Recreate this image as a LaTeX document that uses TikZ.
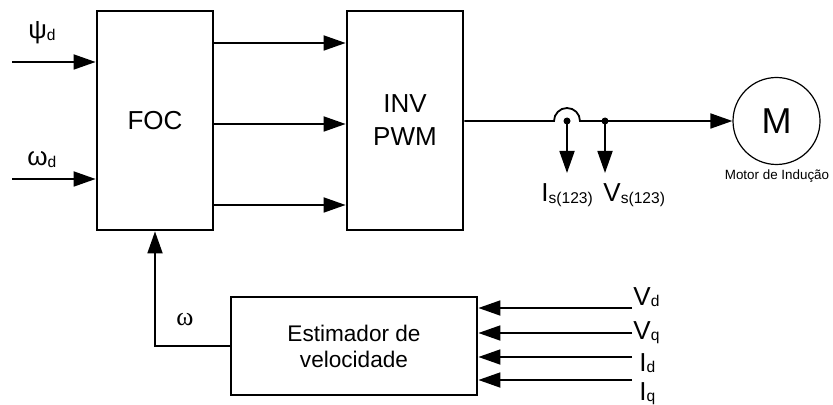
\documentclass[tikz,border=0pt]{standalone}
\usepackage{fontspec}
\setmainfont{Liberation Sans}
\newfontfamily\serifw{Liberation Serif}
\usetikzlibrary{arrows.meta}
\newcommand\fsz[1]{\fontsize{#1}{#1}\selectfont}
\newcommand\sbs[1]{\raisebox{-0.12ex}{\fontsize{7.8}{8}\selectfont #1}}
\begin{document}
\begin{tikzpicture}[x=0.5pt,y=0.5pt,
  blk/.style={draw,line width=1.4pt,inner sep=0pt},
  arr/.style={line width=0.9pt,-{Triangle[length=11pt,width=7.5pt]}},
  lbl/.style={inner sep=0pt,font=\fsz{13}}
]
\useasboundingbox (0,0) rectangle (833,-405);
% blocks
\node[blk,minimum width=58pt,minimum height=109.5pt,font=\fsz{13}] (foc) at (155,-120.5) {FOC};
\node[blk,minimum width=58pt,minimum height=109.5pt,font=\fsz{13},align=center] (inv) at (405,-120.5) {INV\\[3.5pt]PWM};
\node[blk,minimum width=123pt,minimum height=49pt,font=\fontsize{11.3}{13}\selectfont,align=center] (est) at (354,-346) {Estimador de\\velocidade};
\node[draw,circle,minimum size=43.5pt,line width=0.6pt,inner sep=0pt,font=\fsz{18}] (motor) at (776.5,-121) {M};
\node[inner sep=0pt,font=\fsz{6.7},anchor=base] (motl) at (777,-180) {Motor de Indução};
% inputs to FOC
\coordinate (psiS) at (12,-62);
\coordinate (omS) at (12,-179);
\draw[arr] (psiS) -- (psiS -| foc.west);
\draw[arr] (omS) -- (omS -| foc.west);
\node[lbl,anchor=base west] (psil) at (28,-39) {ψ\sbs{d}};
\node[lbl,anchor=base west] (oml) at (27,-166) {ω\sbs{d}};
% FOC -> INV
\coordinate (f1) at (0,-43);
\coordinate (f2) at (0,-124);
\coordinate (f3) at (0,-205);
\draw[arr] (foc.east |- f1) -- (inv.west |- f1);
\draw[arr] (foc.east |- f2) -- (inv.west |- f2);
\draw[arr] (foc.east |- f3) -- (inv.west |- f3);
% main line with hop
\coordinate (hopL) at (554,-121);
\coordinate (d1) at (567,-121);
\coordinate (d2) at (605,-121);
\draw[arr] (inv.east |- hopL) -- (hopL) arc[start angle=180,end angle=0,radius=13] -- (motor.west);
\fill (d1) circle[radius=3.5];
\fill (d2) circle[radius=3.5];
\coordinate (t1) at (567,-173);
\coordinate (t2) at (605,-173);
\draw[arr] (d1) -- (t1);
\draw[arr] (d2) -- (t2);
\node[lbl,anchor=base west] (isl) at (541,-202) {I\sbs{s(123)}};
\node[lbl,anchor=base west] (vsl) at (603,-202) {V\sbs{s(123)}};
% feedback
\draw[arr] (est.west) -| (foc.south);
\node[inner sep=0pt,anchor=base west,font=\serifw\fsz{13}] (wl) at (176,-325) {ω};
% estimator inputs
\coordinate (vdS) at (632,-308);
\coordinate (vqS) at (632,-333);
\coordinate (idS) at (632,-357);
\coordinate (iqS) at (632,-380);
\draw[arr] (vdS) -- (vdS -| est.east);
\draw[arr] (vqS) -- (vqS -| est.east);
\draw[arr] (idS) -- (idS -| est.east);
\draw[arr] (iqS) -- (iqS -| est.east);
\node[lbl,anchor=base west] (vdl) at (633,-305) {V\sbs{d}};
\node[lbl,anchor=base west] (vql) at (633,-339) {V\sbs{q}};
\node[lbl,anchor=base west] (idl) at (639,-371) {I\sbs{d}};
\node[lbl,anchor=base west] (iql) at (639,-400) {I\sbs{q}};
\end{tikzpicture}
\end{document}
